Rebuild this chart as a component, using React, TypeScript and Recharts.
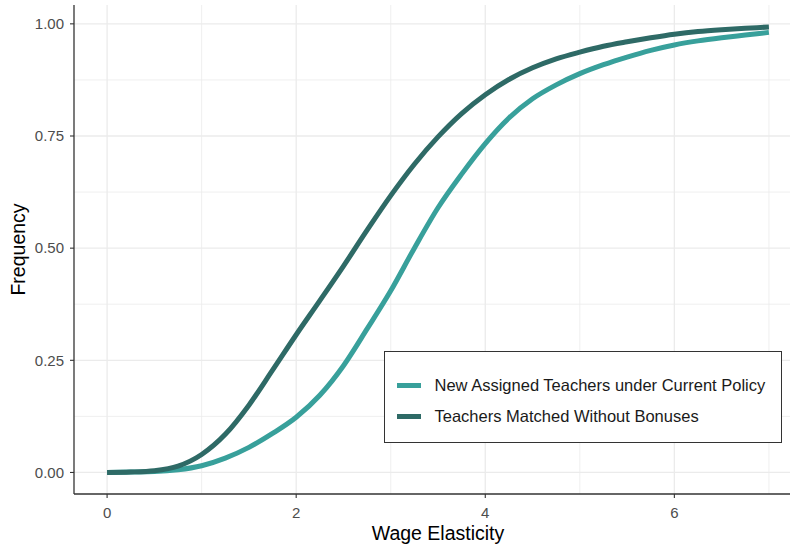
import React from 'react';
import { LineChart, Line, XAxis, YAxis, CartesianGrid, Legend } from 'recharts';

// wage elasticity grid and cumulative shares
const elasticity = [
  0, 0.25, 0.5, 0.75, 1, 1.25, 1.5, 1.75, 2, 2.25, 2.5, 2.75, 3, 3.25, 3.5, 3.75,
  4, 4.25, 4.5, 4.75, 5, 5.25, 5.5, 5.75, 6, 6.25, 6.5, 6.75, 7,
];
const assignedShare = [
  0, 0.001, 0.002, 0.006, 0.015, 0.032, 0.056, 0.087, 0.123, 0.172, 0.238, 0.32, 0.405, 0.5,
  0.59, 0.665, 0.733, 0.79, 0.833, 0.864, 0.889, 0.909, 0.926, 0.941, 0.953, 0.962, 0.969, 0.975,
  0.981,
];
const matchedShare = [
  0, 0.001, 0.004, 0.014, 0.04, 0.085, 0.15, 0.228, 0.307, 0.383, 0.46, 0.54, 0.617, 0.687,
  0.748, 0.8, 0.842, 0.876, 0.902, 0.922, 0.937, 0.95, 0.96, 0.969, 0.977, 0.983, 0.987, 0.99,
  0.993,
];

const xTicks = [0, 2, 4, 6];
const xMinor = [1, 3, 5, 7];
const yTicks = [0, 0.25, 0.5, 0.75, 1];
const yMinor = [0.125, 0.375, 0.625, 0.875];

const seriesNames = ['New Assigned Teachers under Current Policy', 'Teachers Matched Without Bonuses'];

const data = elasticity.map((x, i) => ({
  x,
  assigned: assignedShare[i],
  matched: matchedShare[i],
}));

const FONT = '"Liberation Sans", Arial, sans-serif';
const tickStyle = { fontSize: 15, fill: '#4d4d4d', fontFamily: FONT };

const renderLegend = (props: any) => {
  const { payload } = props;
  return (
    <div
      style={{
        boxSizing: 'border-box',
        width: 398,
        height: 92,
        border: '1.5px solid #333',
        background: '#fff',
        paddingTop: 18,
        fontFamily: FONT,
      }}
    >
      {(payload || []).map((entry: any) => (
        <div key={entry.value} style={{ display: 'flex', alignItems: 'center', height: 31 }}>
          <span
            style={{ display: 'inline-block', width: 24, height: 5, background: entry.color, marginLeft: 11.5, marginRight: 14 }}
          />
          <span style={{ fontSize: 16.5, color: '#1a1a1a' }}>{entry.value}</span>
        </div>
      ))}
    </div>
  );
};

export default function App() {
  return (
    <div style={{ position: 'absolute', left: 0, top: 0, width: 790, height: 552, overflow: 'hidden', background: '#fff' }}>
      <LineChart width={802} height={552} data={data} margin={{ top: 5, right: 0, left: 0, bottom: 0 }}>
        <CartesianGrid
          stroke="#ebebeb"
          strokeWidth={0.8}
          verticalValues={xMinor}
          horizontalValues={yMinor}
        />
        <CartesianGrid stroke="#ebebeb" strokeWidth={1.3} verticalValues={xTicks} horizontalValues={yTicks} />
        <XAxis
          dataKey="x"
          type="number"
          domain={[-0.35, 7.35]}
          ticks={xTicks}
          allowDataOverflow
          height={58}
          tickSize={4}
          tickMargin={9}
          tick={tickStyle}
          stroke="#333"
          axisLine={{ stroke: '#333', strokeWidth: 1.3 }}
          tickLine={{ stroke: '#333', strokeWidth: 1.1 }}
          label={{ value: 'Wage Elasticity', position: 'insideBottom', offset: 12, fontSize: 19.5, fill: '#000', fontFamily: FONT }}
        />
        <XAxis
          xAxisId="top"
          orientation="top"
          dataKey="x"
          type="number"
          domain={[-0.35, 7.35]}
          height={0}
          tick={false}
          tickLine={false}
          axisLine={{ stroke: '#333', strokeWidth: 1.3 }}
        />
        <YAxis
          type="number"
          domain={[-0.048, 1.042]}
          ticks={yTicks}
          allowDataOverflow
          width={74}
          tickSize={4}
          tickMargin={6}
          tick={tickStyle}
          tickFormatter={(v: number) => v.toFixed(2)}
          axisLine={{ stroke: '#333', strokeWidth: 1.3 }}
          tickLine={{ stroke: '#333', strokeWidth: 1.1 }}
          label={{
            value: 'Frequency',
            angle: -90,
            position: 'insideLeft',
            offset: 18.5,
            fontSize: 19.5,
            fill: '#000',
            fontFamily: FONT,
            style: { textAnchor: 'middle' },
          }}
        />
        <Legend
          layout="vertical"
          align="center"
          verticalAlign="middle"
          content={renderLegend}
          wrapperStyle={{ left: 384, top: 351, width: 398, height: 92 }}
        />
        <Line
          type="monotone"
          dataKey="assigned"
          name={seriesNames[0]}
          stroke="#38a09b"
          strokeWidth={5}
          dot={false}
          isAnimationActive={false}
        />
        <Line
          type="monotone"
          dataKey="matched"
          name={seriesNames[1]}
          stroke="#2e6a66"
          strokeWidth={5}
          dot={false}
          isAnimationActive={false}
        />
      </LineChart>
    </div>
  );
}
